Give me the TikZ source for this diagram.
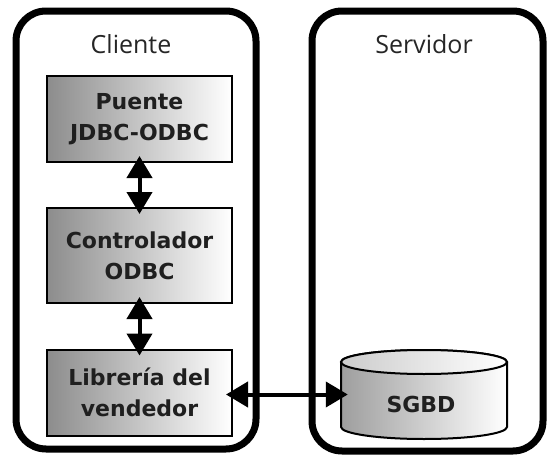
\documentclass[tikz,border=0pt]{standalone}
\usepackage{fontspec}
\setmainfont{DejaVu Sans}
\newfontfamily\titlefont{Open Sans}
\usetikzlibrary{arrows.meta}
\begin{document}
\begin{tikzpicture}[x=1pt,y=-1pt,
  panel/.style={draw=black,line width=7pt,rounded corners=30pt},
  titletext/.style={font=\titlefont\fontsize{25}{30}\selectfont,text=black!85,anchor=center},
  compbox/.style={draw=black,line width=2pt,left color=black!45,right color=white,
     minimum width=185pt,minimum height=86pt,align=center,text=black!88,
     font=\bfseries\fontsize{22}{31}\selectfont,inner sep=0pt},
  link/.style={line width=4pt,shorten <=-7pt,shorten >=-7pt,
     {Triangle[length=22pt,width=25pt]}-{Triangle[length=22pt,width=25pt]}}
]
\useasboundingbox (0,0) rectangle (547,458);
\draw[panel] (16,11) rectangle (256,449);
\draw[panel] (312,11) rectangle (543,451);
\node[titletext] (cli) at (131,44) {Cliente};
\node[titletext] (srv) at (424,44) {Servidor};
\node[compbox] (puente) at (139.5,119) {Puente\\JDBC-ODBC};
\node[compbox,minimum height=95pt] (ctrl) at (139.5,255.5) {Controlador\\ODBC};
\node[compbox] (lib) at (139.5,392.5) {Librería del\\vendedor};
% cylinder
\shade[left color=black!38,right color=white,draw=black,line width=2pt]
  (341,362) -- (341,427) arc[start angle=180,end angle=0,x radius=83,y radius=12]
  -- (507,362) arc[start angle=0,end angle=-180,x radius=83,y radius=12] -- cycle;
\shade[left color=black!20,right color=white,draw=black,line width=2pt]
  (424,362) ellipse[x radius=83,y radius=12];
\node[minimum width=166pt,minimum height=89pt,inner sep=0pt] (db) at (424,394.5) {};
\node[font=\bfseries\fontsize{22}{31}\selectfont,text=black!88] (dbl) at (421,404) {SGBD};
\draw[link] (puente.south) -- (ctrl.north);
\draw[link] (ctrl.south) -- (lib.north);
\draw[link] (lib.east |- db.center) -- (db.west);
\end{tikzpicture}
\end{document}
